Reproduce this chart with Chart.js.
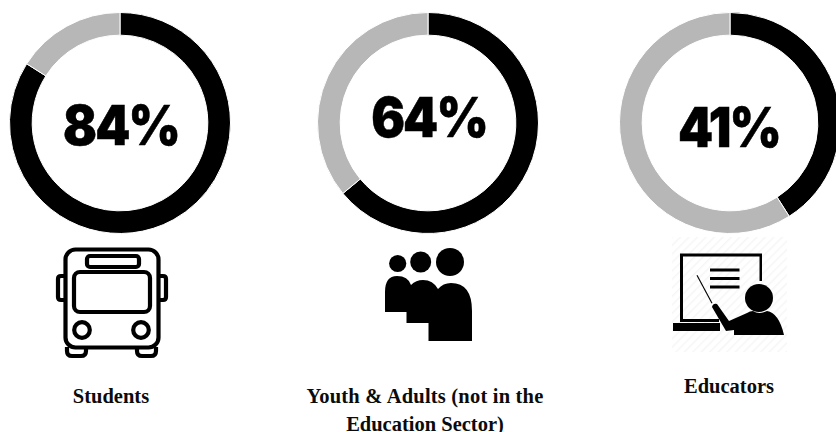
<!DOCTYPE html>
<html>
<head>
<meta charset="utf-8">
<title>Share by group</title>
<script src="https://cdn.jsdelivr.net/npm/chart.js@4"></script>
<style>
  html, body { margin: 0; padding: 0; background: #fff; }
  body { position: relative; width: 836px; height: 432px; overflow: hidden; }
  .ring { position: absolute; top: 12px; width: 222px; height: 222px; }
  .ring canvas { display: block; }
  .pct { position: absolute; font: 900 55px Inter, sans-serif; color: #000; line-height: 58px; letter-spacing: -2px; -webkit-text-stroke: 0.5px #000; white-space: nowrap; transform: translateX(-50%) scaleX(.91); }
  .cat { position: absolute; font: bold 20.5px/28px "Liberation Serif", serif; color: #0b0b0b; text-align: center; white-space: nowrap; transform: translateX(-50%); }
  svg { position: absolute; left: 0; top: 0; }
</style>
</head>
<body>
<svg width="836" height="432" viewBox="0 0 836 432">
  <defs>
    <pattern id="hatch" width="6" height="6" patternUnits="userSpaceOnUse" patternTransform="rotate(45)">
      <rect width="6" height="6" fill="#fff"/>
      <rect width="1.5" height="6" fill="#f6f6f6"/>
    </pattern>
  </defs>

  <!-- bus -->
  <g fill="none" stroke="#000" stroke-width="4.2" stroke-linejoin="round">
    <rect x="65.5" y="249.5" width="93" height="98" rx="10"/>
    <rect x="87" y="256" width="52" height="11" rx="3"/>
    <rect x="74" y="272" width="76" height="40" rx="6"/>
    <circle cx="82" cy="330" r="7.8"/>
    <circle cx="141" cy="330" r="7.8"/>
    <path d="M65 276h-4q-3 0-3 3v18q0 3 3 3h4"/>
    <path d="M159 276h4q3 0 3 3v18q0 3-3 3h-4"/>
    <path d="M67 347v4q0 5 5 5h9q5 0 5-5v-4"/>
    <path d="M137 347v4q0 5 5 5h9q5 0 5-5v-4"/>
  </g>

  <!-- people -->
  <g fill="#000">
    <circle cx="397.7" cy="263.5" r="8.6"/>
    <circle cx="420.7" cy="262" r="10.5"/>
    <circle cx="450" cy="262" r="14"/>
    <path d="M385 312V292q0-16 12-16 11 0 14 9 5-5 12-5 10 0 15 9 5-6 13-6 21 0 21 28v30H428.5V323H406.5V312Z"/>
  </g>

  <!-- educator -->
  <rect x="672" y="237" width="115" height="115" fill="url(#hatch)"/>
  <g fill="#000">
    <path d="M680 253.5h82v27.5h-2.5V256.500H683v62.500h36v3H680Z"/>
    <rect x="710" y="268.500" width="29.5" height="3"/>
    <rect x="710" y="277" width="29.5" height="3"/>
    <rect x="710" y="285.500" width="29.5" height="3"/>
    <path d="M696.500 275.500l1-.6 15 28-1 .6Z"/>
    <circle cx="759" cy="298" r="14"/>
    <rect x="673" y="323" width="47" height="8"/>
    <path d="M712 307q1-4 5-3l12 17 18-8q3-2 6-2 6 4 14 0 12 2 17 24h-50v-5l-8 1Z"/>
  </g>
</svg>

<div class="ring" style="left:8.5px"><canvas id="ring0" width="222" height="222"></canvas></div>
<div class="ring" style="left:317px"><canvas id="ring1" width="222" height="222"></canvas></div>
<div class="ring" style="left:618.5px"><canvas id="ring2" width="222" height="222"></canvas></div>

<div class="pct" style="left:120.500px;top:96px">84%</div>
<div class="pct" style="left:429px;top:88px">64%</div>
<div class="pct" style="left:729px;top:98px">41%</div>

<div class="cat" style="left:111px;top:382px">Students</div>
<div class="cat" style="left:425px;top:382px"><span style="letter-spacing:.2px">Youth &amp; Adults (not in the</span><br>Education Sector)</div>
<div class="cat" style="left:729px;top:372px">Educators</div>

<script>
const categories = ['Students', 'Youth & Adults (not in the Education Sector)', 'Educators'];
const agree = [84, 64, 41];
const rest = [16, 36, 59];

agree.forEach((v, i) => {
  new Chart(document.querySelector('#ring' + i), {
    type: 'doughnut',
    data: {
      labels: [categories[i], 'Other'],
      datasets: [{ data: [v, rest[i]], backgroundColor: ['#000000', '#b7b7b7'], borderColor: '#fff', borderWidth: 1 }]
    },
    options: {
      responsive: false,
      animation: false,
      cutout: '79.5%',
      plugins: { legend: { display: false }, tooltip: { enabled: false } }
    }
  });
});
</script>
</body>
</html>
